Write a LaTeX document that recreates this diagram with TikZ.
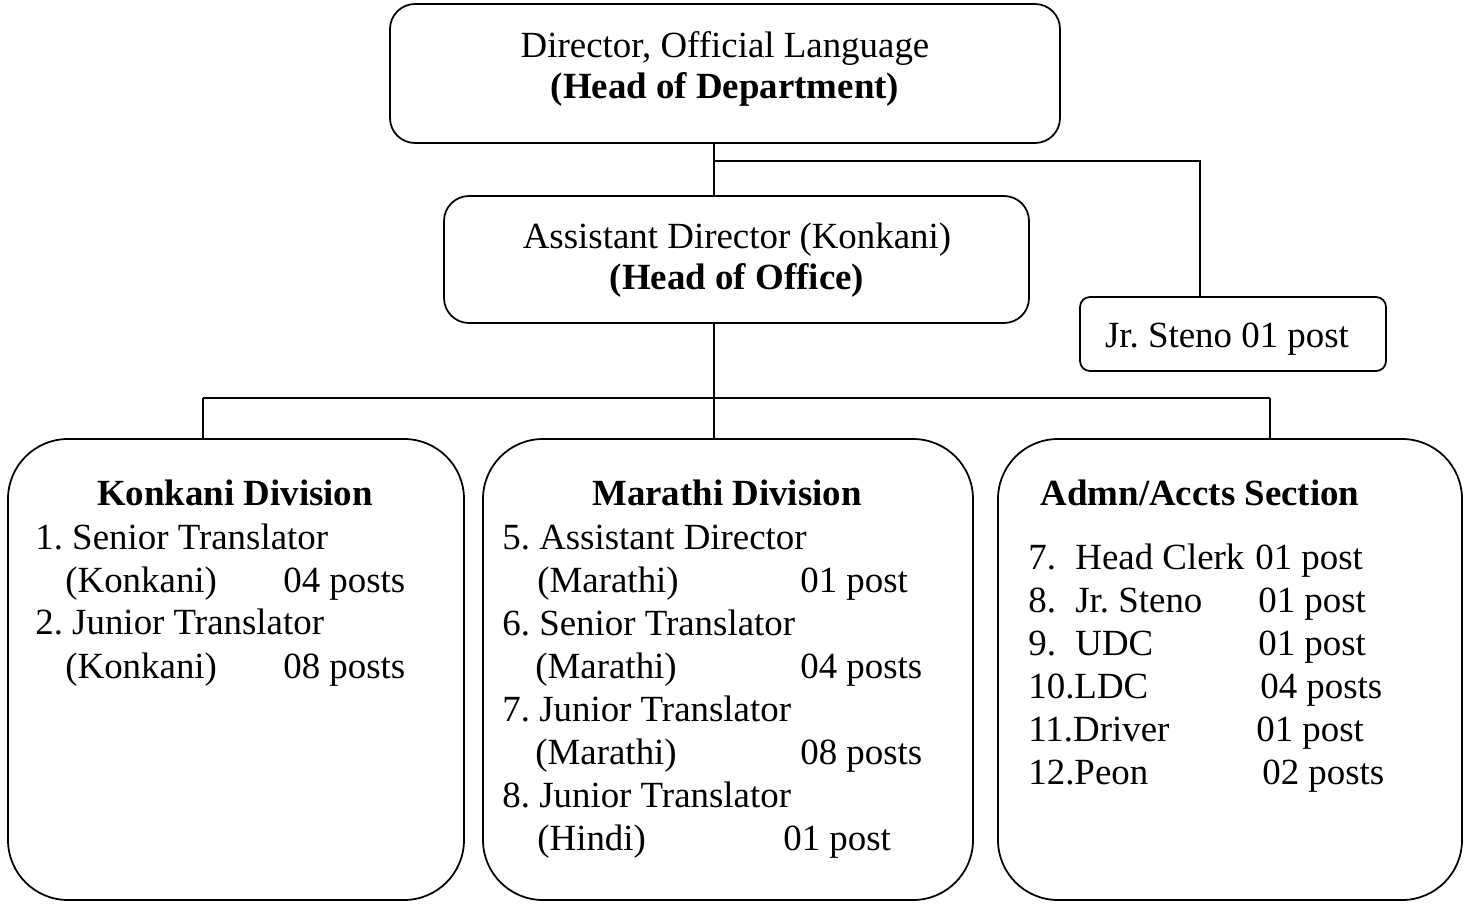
\documentclass[tikz,border=0pt]{standalone}
\usepackage{fontspec}
\setmainfont{Liberation Serif}
\begin{document}
\frenchspacing
\begin{tikzpicture}[x=0.02cm,y=-0.02cm,
  box/.style={draw,line width=1pt,rounded corners=#1},
  box/.default=0.5cm,
  txt/.style={inner sep=0pt,font=\fontsize{21}{24.4}\selectfont,text height=0.7em,text depth=0.2em,yshift=-0.16cm},
  lt/.style={txt,anchor=west},
  conn/.style={line width=1pt}]
\useasboundingbox (0,0) rectangle (1470,903);
% boxes
\draw[box] (390,4) rectangle (1060,143);
\coordinate (topb) at (714,143);
\draw[box] (444,196) rectangle (1029,323);
\coordinate (adt) at (714,196);
\coordinate (adb) at (714,323);
\draw[box=0.2cm] (1080,297) rectangle (1386,371);
\coordinate (jst) at (1200,297);
\draw[box=1.2cm] (8,439) rectangle (464,900);
\draw[box=1.2cm] (483,439) rectangle (973,900);
\draw[box=1.2cm] (998,439) rectangle (1462,900);
\coordinate (k) at (203,439);
\coordinate (m) at (714,439);
\coordinate (a) at (1270,439);
% connectors
\coordinate (j1) at (714,161);
\coordinate (j2) at (714,398);
\draw[conn] (topb) -- (adt);
\draw[conn] (j1) -| (jst);
\draw[conn] (adb) -- (j2);
\draw[conn] (j2 -| k) -- (j2 -| a);
\draw[conn] (j2 -| k) -- (k);
\draw[conn] (j2) -- (m);
\draw[conn] (j2 -| a) -- (a);
% top texts
\node[txt] (t1) at (725,45) {Director, Official Language};
\node[txt] (t2) at (725,86) {\textbf{(Head of Department)}};
\node[txt] (t3) at (737,236) {Assistant Director (Konkani)};
\node[txt] (t4) at (737,277) {\textbf{(Head of Office)}};
\node[txt] (t5) at (1227,335) {Jr. Steno 01 post};
% Konkani
\node[txt] (kh) at (235,493) {\textbf{Konkani Division}};
\node[lt] (k1) at (35,537) {1. Senior Translator};
\node[lt] (k2) at (65,580) {(Konkani)};
\node[lt] (k2b) at (283,580) {04 posts};
\node[lt] (k3) at (35,622) {2. Junior Translator};
\node[lt] (k4) at (65,666) {(Konkani)};
\node[lt] (k4b) at (283,666) {08 posts};
% Marathi
\node[txt] (mh) at (727,493) {\textbf{Marathi Division}};
\node[lt] (m1) at (502,537) {5. Assistant Director};
\node[lt] (m2) at (537,580) {(Marathi)};
\node[lt] (m2b) at (800,580) {01 post};
\node[lt] (m3) at (502,623) {6. Senior Translator};
\node[lt] (m4) at (535,666) {(Marathi)};
\node[lt] (m4b) at (800,666) {04 posts};
\node[lt] (m5) at (502,709) {7. Junior Translator};
\node[lt] (m6) at (535,752) {(Marathi)};
\node[lt] (m6b) at (800,752) {08 posts};
\node[lt] (m7) at (502,795) {8. Junior Translator};
\node[lt] (m8) at (537,838) {(Hindi)};
\node[lt] (m8b) at (783,838) {01 post};
% Admn
\node[txt] (ah) at (1200,493) {\textbf{Admn/Accts Section}};
\node[lt] (a1n) at (1028,557) {7.};
\node[lt] (a1) at (1075,557) {Head Clerk};
\node[lt] (a1b) at (1255,557) {01 post};
\node[lt] (a2n) at (1028,600) {8.};
\node[lt] (a2) at (1075,600) {Jr. Steno};
\node[lt] (a2b) at (1258,600) {01 post};
\node[lt] (a3n) at (1028,643) {9.};
\node[lt] (a3) at (1075,643) {UDC};
\node[lt] (a3b) at (1258,643) {01 post};
\node[lt] (a4) at (1028,686) {10.LDC};
\node[lt] (a4b) at (1260,686) {04 posts};
\node[lt] (a5) at (1028,729) {11.Driver};
\node[lt] (a5b) at (1256,729) {01 post};
\node[lt] (a6) at (1028,772) {12.Peon};
\node[lt] (a6b) at (1262,772) {02 posts};
\end{tikzpicture}
\end{document}
